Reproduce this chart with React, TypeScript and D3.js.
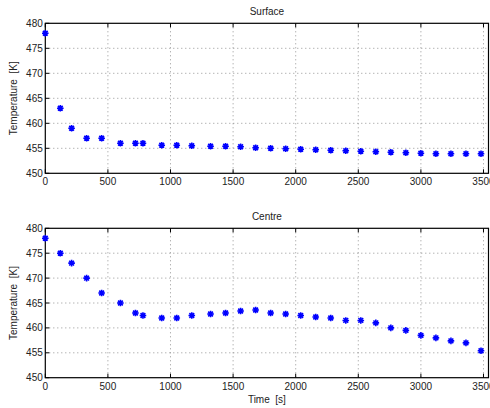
import React, { useRef, useEffect } from "react";
import * as d3 from "d3";

// time stamps [s]
const times = [
  0, 120, 210, 330, 450, 600, 720, 780, 930, 1050, 1170, 1320, 1440, 1560, 1680,
  1800, 1920, 2040, 2160, 2280, 2400, 2520, 2640, 2760, 2880, 3000, 3120, 3240, 3360, 3480,
];

// surface temperature [K]
const surfaceTemp = [
  478, 463, 459, 457, 457, 456, 456, 456, 455.6, 455.6, 455.5, 455.4, 455.4, 455.3, 455.1,
  455.0, 454.9, 454.8, 454.7, 454.6, 454.5, 454.4, 454.3, 454.2, 454.1, 454.0, 453.9, 453.9, 453.9, 453.9,
];

// centre temperature [K]
const centreTemp = [
  478, 475, 473, 470, 467, 465, 463, 462.5, 462, 462, 462.5, 462.8, 463, 463.4, 463.6,
  463.0, 462.8, 462.5, 462.2, 462.0, 461.5, 461.5, 461.0, 460.0, 459.5, 458.5, 458.0, 457.4, 457.0, 455.4,
];

const xTicks = [0, 500, 1000, 1500, 2000, 2500, 3000, 3500];
const yTicks = [450, 455, 460, 465, 470, 475, 480];

const panels = [
  { title: "Surface", values: surfaceTemp, top: 23.3, bottom: 173.3, xlabel: "" },
  { title: "Centre", values: centreTemp, top: 228.3, bottom: 377.7, xlabel: "Time  [s]" },
];

const App = () => {
  const ref = useRef<SVGSVGElement>(null);

  useEffect(() => {
    const width = 490;
    const height = 408;
    const left = 45.3;
    const right = 488.5;
    const font = "Liberation Sans, Arial, Helvetica, sans-serif";

    const svg = d3.select(ref.current);
    svg.selectAll("*").remove();
    svg.attr("width", width).attr("height", height).style("display", "block");

    svg.append("rect").attr("width", width).attr("height", height).attr("fill", "white");

    const x = d3.scaleLinear().domain([0, 3540]).range([left, right]);

    panels.forEach((p) => {
      const y = d3.scaleLinear().domain([450, 480]).range([p.bottom, p.top]);
      const g = svg.append("g");

      // grid
      g.selectAll(".gx")
        .data(xTicks.filter((t) => t > 0))
        .join("line")
        .attr("x1", (d) => x(d))
        .attr("x2", (d) => x(d))
        .attr("y1", p.top)
        .attr("y2", p.bottom)
        .attr("stroke", "#7a7a7a")
        .attr("stroke-width", 0.8)
        .attr("stroke-dasharray", "1,3");
      g.selectAll(".gy")
        .data(yTicks.filter((t) => t > 450 && t < 480))
        .join("line")
        .attr("x1", left)
        .attr("x2", right)
        .attr("y1", (d) => y(d))
        .attr("y2", (d) => y(d))
        .attr("stroke", "#7a7a7a")
        .attr("stroke-width", 0.8)
        .attr("stroke-dasharray", "1,3");

      // box
      g.append("rect")
        .attr("x", left)
        .attr("y", p.top)
        .attr("width", right - left)
        .attr("height", p.bottom - p.top)
        .attr("fill", "none")
        .attr("stroke", "black")
        .attr("stroke-width", 1.2);

      // inward ticks
      xTicks.forEach((t) => {
        g.append("line").attr("x1", x(t)).attr("x2", x(t)).attr("y1", p.bottom).attr("y2", p.bottom - 4).attr("stroke", "black");
        g.append("line").attr("x1", x(t)).attr("x2", x(t)).attr("y1", p.top).attr("y2", p.top + 4).attr("stroke", "black");
      });
      yTicks.forEach((t) => {
        g.append("line").attr("x1", left).attr("x2", left + 4).attr("y1", y(t)).attr("y2", y(t)).attr("stroke", "black");
      });

      // tick labels
      g.selectAll(".xl")
        .data(xTicks)
        .join("text")
        .attr("x", (d) => x(d))
        .attr("y", p.bottom + 12)
        .attr("text-anchor", "middle")
        .attr("font-family", font)
        .attr("font-size", 10)
        .attr("fill", "#222")
        .text((d) => d);
      g.selectAll(".yl")
        .data(yTicks)
        .join("text")
        .attr("x", left - 2.5)
        .attr("y", (d) => y(d) + 3.5)
        .attr("text-anchor", "end")
        .attr("font-family", font)
        .attr("font-size", 10)
        .attr("fill", "#222")
        .text((d) => d);

      // title
      g.append("text")
        .attr("x", (left + right) / 2)
        .attr("y", p.top - 8)
        .attr("text-anchor", "middle")
        .attr("font-family", font)
        .attr("font-size", 10)
        .attr("fill", "#222")
        .text(p.title);

      // y label
      g.append("text")
        .attr("transform", `translate(17,${(p.top + p.bottom) / 2}) rotate(-90)`)
        .attr("text-anchor", "middle")
        .attr("font-family", font)
        .attr("font-size", 10)
        .attr("fill", "#222")
        .style("white-space", "pre")
        .text("Temperature  [K]");

      if (p.xlabel) {
        g.append("text")
          .attr("x", (left + right) / 2)
          .attr("y", p.bottom + 25)
          .attr("text-anchor", "middle")
          .attr("font-family", font)
          .attr("font-size", 10)
          .attr("fill", "#222")
          .style("white-space", "pre")
          .text(p.xlabel);
      }

      // asterisk markers
      const r = 3.3;
      const star = `M${-r},0L${r},0M0,${-r}L0,${r}M${-r * 0.72},${-r * 0.72}L${r * 0.72},${r * 0.72}M${-r * 0.72},${r * 0.72}L${r * 0.72},${-r * 0.72}`;
      g.selectAll(".pt")
        .data(times.map((t, i) => ({ t, v: p.values[i] })))
        .join("path")
        .attr("transform", (d) => `translate(${x(d.t)},${y(d.v)})`)
        .attr("d", star)
        .attr("fill", "none")
        .attr("stroke", "#0000ff")
        .attr("stroke-width", 1.6);
    });
  }, []);

  return <svg ref={ref} style={{ position: "absolute", left: 0, top: 0 }}></svg>;
};

export default App;
